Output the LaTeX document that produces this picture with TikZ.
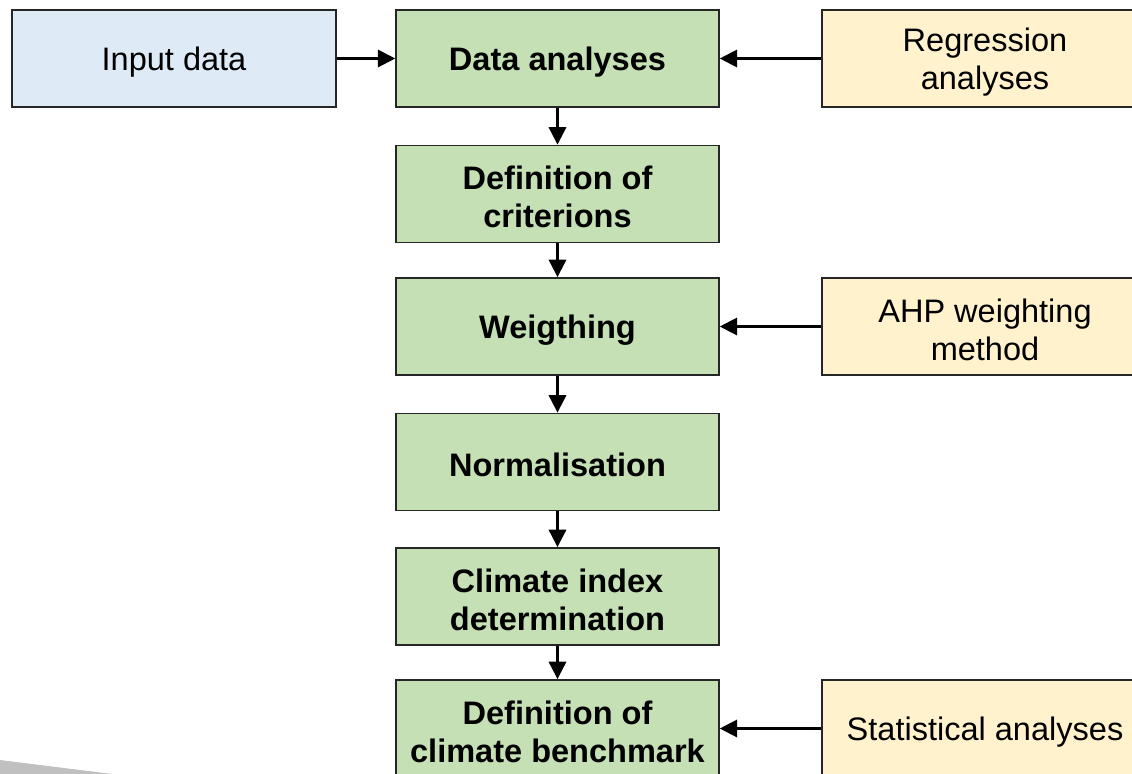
\documentclass[tikz,border=0pt]{standalone}
\usepackage{fontspec}
\setmainfont{Liberation Sans}
\usetikzlibrary{arrows.meta}
\definecolor{boxgreen}{HTML}{C5E0B4}
\definecolor{boxblue}{HTML}{DEEBF7}
\definecolor{boxyellow}{HTML}{FFF2CC}
\definecolor{wedge}{HTML}{C0C0C0}
\begin{document}
\begin{tikzpicture}[x=0.75pt,y=-0.75pt,
  base/.style={draw=black!85,line width=1.4pt,inner sep=0pt,minimum height=72.75pt},
  txt/.style={align=center,inner sep=0pt,yshift=-2.4pt,font=\fontsize{24.4}{28.5}\selectfont},
  btxt/.style={txt,font=\fontsize{24.4}{28.5}\selectfont\bfseries},
  stepbox/.style={base,fill=boxgreen,minimum width=242pt,label={[btxt]center:{#1}}},
  inbox/.style={base,fill=boxblue,minimum width=243pt,label={[txt]center:{#1}}},
  sidebox/.style={base,fill=boxyellow,minimum width=245pt,label={[txt]center:{#1}}},
  conn/.style={line width=1.6pt,-{Triangle[length=13pt,width=13pt]}}]
\useasboundingbox (0,0) rectangle (1132,774);
\clip (0,0) rectangle (1132,774);
\fill[wedge] (0,760) -- (112,774) -- (0,774) -- cycle;
\node[inbox={Input data}] (in) at (174,58.5) {};
\node[stepbox={Data analyses}] (da) at (557.5,58.5) {};
\node[sidebox={Regression\\analyses}] (reg) at (985,58.5) {};
\node[stepbox={Definition of\\criterions}] (dc) at (557.5,194) {};
\node[stepbox={Weigthing}] (w) at (557.5,326.5) {};
\node[sidebox={AHP weighting\\method}] (ahp) at (985,326.5) {};
\node[stepbox={Normalisation}] (n) at (557.5,462) {};
\node[stepbox={Climate index\\determination}] (ci) at (557.5,596.5) {};
\node[stepbox={Definition of\\climate benchmark}] (cb) at (557.5,728.5) {};
\node[sidebox={Statistical analyses}] (sa) at (985,728.5) {};
\draw[conn] (in) -- (da);
\draw[conn] (reg) -- (da);
\draw[conn] (ahp) -- (w);
\draw[conn] (sa) -- (cb);
\draw[conn] (da) -- (dc);
\draw[conn] (dc) -- (w);
\draw[conn] (w) -- (n);
\draw[conn] (n) -- (ci);
\draw[conn] (ci) -- (cb);
\end{tikzpicture}
\end{document}
